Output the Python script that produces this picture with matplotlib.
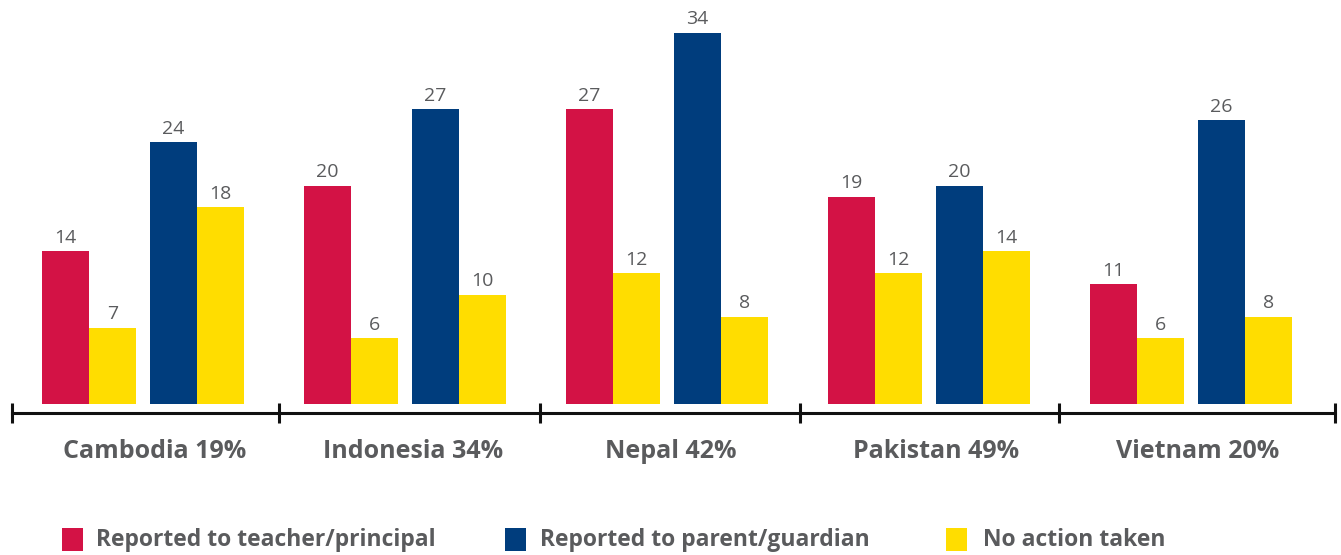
import matplotlib
matplotlib.use("Agg")
import matplotlib.pyplot as plt
from matplotlib.patches import Rectangle
from matplotlib import font_manager as fm

countries = ["Cambodia 19%", "Indonesia 34%", "Nepal 42%", "Pakistan 49%", "Vietnam 20%"]
teacher = [14, 20, 27, 19, 11]
teacher_no_action = [7, 6, 12, 12, 6]
parent = [24, 27, 34, 20, 26]
parent_no_action = [18, 10, 8, 14, 8]
legend_labels = ["Reported to teacher/principal", "Reported to parent/guardian", "No action taken"]

RED = "#D31245"
BLUE = "#003D7D"
YELLOW = "#FFDD00"
GREY = "#5A5B5D"

names = {f.name for f in fm.fontManager.ttflist}
narrow = "Liberation Sans Narrow" if "Liberation Sans Narrow" in names else "Open Sans"

W, H = 1341, 555
fig = plt.figure(figsize=(W / 100, H / 100), dpi=100)
ax_bottom_px = 413
ax = fig.add_axes([0, (H - ax_bottom_px) / H, 1, ax_bottom_px / H])

unit = 262.0
center0 = 143.0
ax.set_xlim(-center0 / unit, (W - center0) / unit)
px_per_val = 10.92
ax.set_ylim(-(ax_bottom_px - 404) / px_per_val, 404 / px_per_val)

bw = 47 / unit
offsets = [-77.5 / unit, -30.5 / unit, 30.5 / unit, 77.5 / unit]
series = [(teacher, RED), (teacher_no_action, YELLOW), (parent, BLUE), (parent_no_action, YELLOW)]
xs = list(range(len(countries)))
for (vals, col), off in zip(series, offsets):
    pos = [x + off for x in xs]
    ax.bar(pos, vals, width=bw, color=col, linewidth=0)
    for p, v in zip(pos, vals):
        ax.text(p, v + 0.4, str(v), ha="center", va="bottom", fontsize=14,
                color=GREY, family="Open Sans")

for s in ["top", "right", "left"]:
    ax.spines[s].set_visible(False)
ax.spines["bottom"].set_linewidth(2.2)
ax.spines["bottom"].set_color("#111111")
ax.set_yticks([])
bounds = [-0.5, 0.52, 1.515, 2.508, 3.496, 4.55]
ax.set_xticks(bounds)
ax.set_xticklabels([])
ax.tick_params(axis="x", direction="inout", length=14.5, width=2.2, color="#111111")
ax.spines["bottom"].set_bounds(bounds[0], bounds[-1])

label_off = [12 / unit, 8 / unit, 4 / unit, 7 / unit, 7 / unit]
for x, c, o in zip(xs, countries, label_off):
    ax.text(x + o, -(451 - 404) / px_per_val, c, ha="center", va="center",
            fontsize=18, fontweight="bold", color=GREY, family="Open Sans")

legend_items = [(legend_labels[0], RED, 62, 96), (legend_labels[1], BLUE, 505, 540),
                (legend_labels[2], YELLOW, 946, 983)]
for lab, col, sx, tx in legend_items:
    fig.patches.append(Rectangle((sx / W, (H - 551) / H), 21 / W, 23 / H,
                                 transform=fig.transFigure, color=col, linewidth=0))
    fig.text(tx / W, (H - 540) / H, lab, ha="left", va="center", fontsize=16.5,
             fontweight="bold", color=GREY, family=narrow)

fig.savefig("out.png", dpi=100)
